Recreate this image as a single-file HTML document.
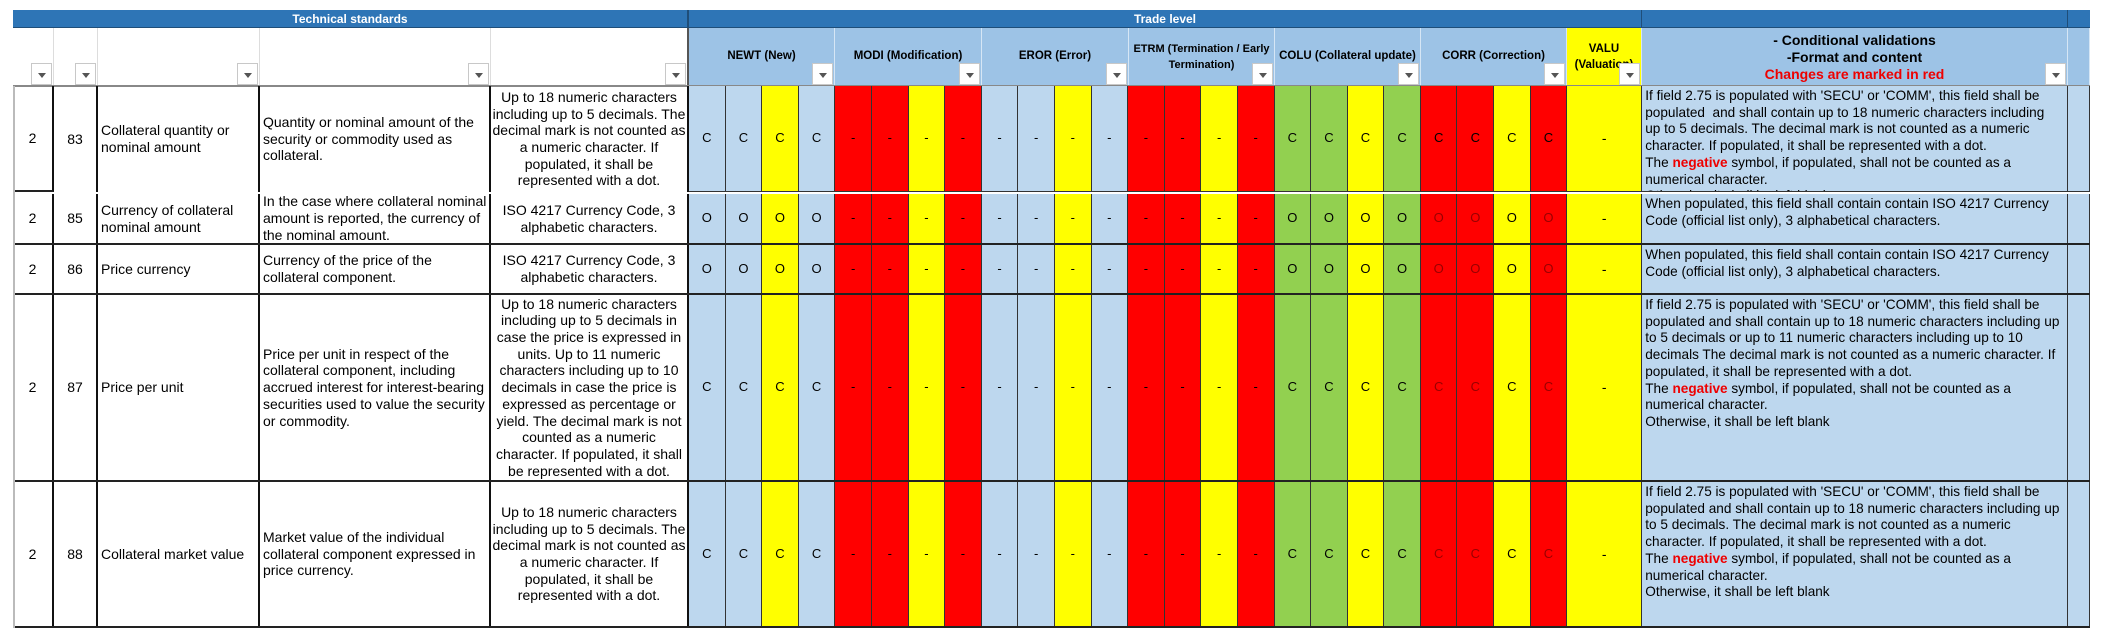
<!DOCTYPE html>
<html><head><meta charset="utf-8">
<style>
*{box-sizing:border-box;margin:0;padding:0}
body{width:2118px;height:634px;background:#fff;position:relative;overflow:hidden;font-family:"Liberation Sans",Arial,sans-serif;color:#000}
.a{position:absolute}
.bar{top:10px;height:18px;background:#2e75b6;color:#fff;font-weight:bold;font-size:12px;line-height:18px;text-align:center;border-bottom:1px solid #1f4e79}
.hd{top:28px;height:58px}
.btn{position:absolute;width:21px;height:22px;background:#fff;border:1px solid #c8c8c8;bottom:1px;right:1px}
.btn:after{content:"";position:absolute;left:6px;top:9px;border-left:4px solid transparent;border-right:4px solid transparent;border-top:5px solid #555}
.gh{background:#9dc3e6;border-right:1px solid #d6e6f5;font-weight:bold;font-size:11.5px;text-align:center;white-space:nowrap}
.row{position:absolute;left:13px;display:flex;border-bottom:2px solid #222}
.c{height:100%;display:flex;align-items:center;font-size:14px;line-height:16.7px;border-right:1px solid #333;overflow:hidden;flex:none}
.ctr{justify-content:center;text-align:center}
.lb{background:#bdd7ee}.y{background:#ff0}.r{background:#f00}.g{background:#92d050}
.t{width:36.6px;justify-content:center;font-size:13px}
.k{border-right:2px solid #111}
.cond{width:426px;display:block;padding:2px 0 0 3px;font-size:13.6px;background:#bdd7ee;white-space:nowrap}
.neg{color:#e00;font-weight:bold}
.dr{color:#900}
</style></head><body>
<div class="a bar" style="left:13px;width:676px;border-right:2px solid #1f4e79">Technical standards</div>
<div class="a bar" style="left:689px;width:953px;border-right:1px solid #1f4e79">Trade level</div>
<div class="a bar" style="left:1642px;width:426px;border-right:1px solid #1f4e79"></div>
<div class="a bar" style="left:2068px;width:22px"></div>
<div class="a hd" style="left:13px;width:41px;border-right:1px solid #ddd"><div class="btn"></div></div>
<div class="a hd" style="left:54px;width:44px;border-right:1px solid #ddd"><div class="btn"></div></div>
<div class="a hd" style="left:98px;width:162px;border-right:1px solid #ddd"><div class="btn"></div></div>
<div class="a hd" style="left:260px;width:231px;border-right:1px solid #ddd"><div class="btn"></div></div>
<div class="a hd" style="left:491px;width:198px;border-right:2px solid #555"><div class="btn"></div></div>
<div class="a hd gh" style="left:689px;width:146px;padding-top:22px">NEWT (New)<div class="btn"></div></div>
<div class="a hd gh" style="left:835px;width:147px;padding-top:22px">MODI (Modification)<div class="btn"></div></div>
<div class="a hd gh" style="left:982px;width:147px;padding-top:22px">EROR (Error)<div class="btn"></div></div>
<div class="a hd gh" style="left:1129px;width:146px;padding-top:13px;line-height:16px;font-size:11px">ETRM (Termination / Early<br>Termination)<div class="btn"></div></div>
<div class="a hd gh" style="left:1275px;width:146px;padding-top:22px;overflow:hidden">COLU (Collateral update)<div class="btn"></div></div>
<div class="a hd gh" style="left:1421px;width:146px;padding-top:22px">CORR (Correction)<div class="btn"></div></div>
<div class="a hd gh" style="left:1567px;width:75px;background:#ff0;padding-top:13px;line-height:16px;overflow:hidden">VALU<br>(Valuation)<div class="btn"></div></div>
<div class="a hd gh" style="left:1642px;width:426px;padding-top:4px;line-height:17px;font-size:14px">- Conditional validations<br>-Format and content<br><span style="color:#e00">Changes are marked in red</span><div class="btn"></div></div>
<div class="a hd gh" style="left:2068px;width:22px"></div>
<div class="a" style="left:13px;top:85px;width:2077px;height:2px;background:#888"></div>

<div class="row" style="top:86px;height:108px;border-bottom-color:transparent">
<div class="c ctr k" style="width:41px;border-bottom:2px solid #222">2</div>
<div class="c ctr k" style="width:44px">83</div>
<div class="c k" style="width:162px;padding-left:3px">Collateral quantity or<br>nominal amount</div>
<div class="c k" style="width:231px;padding-left:3px">Quantity or nominal amount of the<br>security or commodity used as<br>collateral.</div>
<div class="c ctr k" style="width:198px">Up to 18 numeric characters<br>including up to 5 decimals. The<br>decimal mark is not counted as<br>a numeric character. If<br>populated, it shall be<br>represented with a dot.</div>
<div style="display:flex;border-bottom:1px solid #333;height:100%">
<div class="c t lb">C</div><div class="c t lb">C</div><div class="c t y">C</div><div class="c t lb">C</div>
<div class="c t r">-</div><div class="c t r">-</div><div class="c t y">-</div><div class="c t r">-</div>
<div class="c t lb">-</div><div class="c t lb">-</div><div class="c t y">-</div><div class="c t lb">-</div>
<div class="c t r">-</div><div class="c t r">-</div><div class="c t y">-</div><div class="c t r">-</div>
<div class="c t g">C</div><div class="c t g">C</div><div class="c t y">C</div><div class="c t g">C</div>
<div class="c t r">C</div><div class="c t r">C</div><div class="c t y">C</div><div class="c t r">C</div>
<div class="c y" style="width:75px;justify-content:center">-</div>
<div class="c cond">If field 2.75 is populated with 'SECU' or 'COMM', this field shall be<br>populated &nbsp;and shall contain up to 18 numeric characters including<br>up to 5 decimals. The decimal mark is not counted as a numeric<br>character. If populated, it shall be represented with a dot.<br>The <span class="neg">negative</span> symbol, if populated, shall not be counted as a<br>numerical character.<br>Otherwise, it shall be left blank</div>
<div class="c lb" style="width:22px"></div>
</div></div>

<div class="row" style="top:194px;height:51px">
<div class="c ctr k" style="width:41px">2</div>
<div class="c ctr k" style="width:44px">85</div>
<div class="c k" style="width:162px;padding-left:3px">Currency of collateral<br>nominal amount</div>
<div class="c k" style="width:231px;padding-left:3px">In the case where collateral nominal<br>amount is reported, the currency of<br>the nominal amount.</div>
<div class="c ctr k" style="width:198px">ISO 4217 Currency Code, 3<br>alphabetic characters.</div>
<div class="c t lb">O</div><div class="c t lb">O</div><div class="c t y">O</div><div class="c t lb">O</div>
<div class="c t r">-</div><div class="c t r">-</div><div class="c t y">-</div><div class="c t r">-</div>
<div class="c t lb">-</div><div class="c t lb">-</div><div class="c t y">-</div><div class="c t lb">-</div>
<div class="c t r">-</div><div class="c t r">-</div><div class="c t y">-</div><div class="c t r">-</div>
<div class="c t g">O</div><div class="c t g">O</div><div class="c t y">O</div><div class="c t g">O</div>
<div class="c t r dr">O</div><div class="c t r dr">O</div><div class="c t y">O</div><div class="c t r dr">O</div>
<div class="c y" style="width:75px;justify-content:center">-</div>
<div class="c cond">When populated, this field shall contain contain ISO 4217 Currency<br>Code (official list only), 3 alphabetical characters.</div>
<div class="c lb" style="width:22px"></div>
</div>

<div class="row" style="top:245px;height:50px">
<div class="c ctr k" style="width:41px">2</div>
<div class="c ctr k" style="width:44px">86</div>
<div class="c k" style="width:162px;padding-left:3px">Price currency</div>
<div class="c k" style="width:231px;padding-left:3px">Currency of the price of the<br>collateral component.</div>
<div class="c ctr k" style="width:198px">ISO 4217 Currency Code, 3<br>alphabetic characters.</div>
<div class="c t lb">O</div><div class="c t lb">O</div><div class="c t y">O</div><div class="c t lb">O</div>
<div class="c t r">-</div><div class="c t r">-</div><div class="c t y">-</div><div class="c t r">-</div>
<div class="c t lb">-</div><div class="c t lb">-</div><div class="c t y">-</div><div class="c t lb">-</div>
<div class="c t r">-</div><div class="c t r">-</div><div class="c t y">-</div><div class="c t r">-</div>
<div class="c t g">O</div><div class="c t g">O</div><div class="c t y">O</div><div class="c t g">O</div>
<div class="c t r dr">O</div><div class="c t r dr">O</div><div class="c t y">O</div><div class="c t r dr">O</div>
<div class="c y" style="width:75px;justify-content:center">-</div>
<div class="c cond">When populated, this field shall contain contain ISO 4217 Currency<br>Code (official list only), 3 alphabetical characters.</div>
<div class="c lb" style="width:22px"></div>
</div>

<div class="row" style="top:295px;height:187px">
<div class="c ctr k" style="width:41px">2</div>
<div class="c ctr k" style="width:44px">87</div>
<div class="c k" style="width:162px;padding-left:3px">Price per unit</div>
<div class="c k" style="width:231px;padding-left:3px">Price per unit in respect of the<br>collateral component, including<br>accrued interest for interest-bearing<br>securities used to value the security<br>or commodity.</div>
<div class="c ctr k" style="width:198px">Up to 18 numeric characters<br>including up to 5 decimals in<br>case the price is expressed in<br>units. Up to 11 numeric<br>characters including up to 10<br>decimals in case the price is<br>expressed as percentage or<br>yield. The decimal mark is not<br>counted as a numeric<br>character. If populated, it shall<br>be represented with a dot.</div>
<div class="c t lb">C</div><div class="c t lb">C</div><div class="c t y">C</div><div class="c t lb">C</div>
<div class="c t r">-</div><div class="c t r">-</div><div class="c t y">-</div><div class="c t r">-</div>
<div class="c t lb">-</div><div class="c t lb">-</div><div class="c t y">-</div><div class="c t lb">-</div>
<div class="c t r">-</div><div class="c t r">-</div><div class="c t y">-</div><div class="c t r">-</div>
<div class="c t g">C</div><div class="c t g">C</div><div class="c t y">C</div><div class="c t g">C</div>
<div class="c t r dr">C</div><div class="c t r dr">C</div><div class="c t y">C</div><div class="c t r dr">C</div>
<div class="c y" style="width:75px;justify-content:center">-</div>
<div class="c cond">If field 2.75 is populated with 'SECU' or 'COMM', this field shall be<br>populated and shall contain up to 18 numeric characters including up<br>to 5 decimals or up to 11 numeric characters including up to 10<br>decimals The decimal mark is not counted as a numeric character. If<br>populated, it shall be represented with a dot.<br>The <span class="neg">negative</span> symbol, if populated, shall not be counted as a<br>numerical character.<br>Otherwise, it shall be left blank</div>
<div class="c lb" style="width:22px"></div>
</div>

<div class="row" style="top:482px;height:146px">
<div class="c ctr k" style="width:41px">2</div>
<div class="c ctr k" style="width:44px">88</div>
<div class="c k" style="width:162px;padding-left:3px">Collateral market value</div>
<div class="c k" style="width:231px;padding-left:3px">Market value of the individual<br>collateral component expressed in<br>price currency.</div>
<div class="c ctr k" style="width:198px">Up to 18 numeric characters<br>including up to 5 decimals. The<br>decimal mark is not counted as<br>a numeric character. If<br>populated, it shall be<br>represented with a dot.</div>
<div class="c t lb">C</div><div class="c t lb">C</div><div class="c t y">C</div><div class="c t lb">C</div>
<div class="c t r">-</div><div class="c t r">-</div><div class="c t y">-</div><div class="c t r">-</div>
<div class="c t lb">-</div><div class="c t lb">-</div><div class="c t y">-</div><div class="c t lb">-</div>
<div class="c t r">-</div><div class="c t r">-</div><div class="c t y">-</div><div class="c t r">-</div>
<div class="c t g">C</div><div class="c t g">C</div><div class="c t y">C</div><div class="c t g">C</div>
<div class="c t r dr">C</div><div class="c t r dr">C</div><div class="c t y">C</div><div class="c t r dr">C</div>
<div class="c y" style="width:75px;justify-content:center">-</div>
<div class="c cond">If field 2.75 is populated with 'SECU' or 'COMM', this field shall be<br>populated and shall contain up to 18 numeric characters including up<br>to 5 decimals. The decimal mark is not counted as a numeric<br>character. If populated, it shall be represented with a dot.<br>The <span class="neg">negative</span> symbol, if populated, shall not be counted as a<br>numerical character.<br>Otherwise, it shall be left blank</div>
<div class="c lb" style="width:22px"></div>
</div>
<div class="a" style="left:13px;top:86px;width:2px;height:542px;background:#bbb"></div>
</body></html>
